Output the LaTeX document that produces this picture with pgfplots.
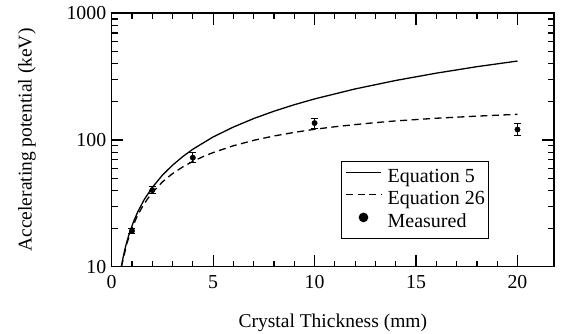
\documentclass[border=0pt]{standalone}
\usepackage{fontspec}
\setmainfont{Liberation Serif}
\usepackage{pgfplots}
\pgfplotsset{compat=1.18}
\begin{document}
\begin{tikzpicture}
\begin{axis}[
  name=ax,
  scale only axis,
  width=442.3bp, height=253.4bp,
  ymode=log,
  xmin=0, xmax=21.8,
  ymin=10, ymax=1000,
  xtick={0,5,10,15,20},
  xticklabels={0,5,10,15,20},
  minor x tick num=4,
  ytick={10,100,1000},
  yticklabels={10,100,1000},
  tick pos=both,
  tick align=inside,
  major tick length=11.7bp,
  minor tick length=6bp,
  axis line style={line width=1.6bp},
  every tick/.style={line width=1.2bp, black},
  /pgf/number format/assume math mode=true,
  tick label style={font=\fontsize{19.8bp}{23bp}\selectfont},
  label style={font=\fontsize{19.5bp}{23bp}\selectfont},
  xticklabel shift=5bp,
  yticklabel shift=2bp,
  xlabel={Crystal Thickness (mm)},
  ylabel={Accelerating potential (keV)},
  xlabel style={at={(axis description cs:0.5,-0.238)}, anchor=base},
  ylabel style={at={(axis description cs:-0.181,0.5)}, anchor=base},
  legend style={
    at={(axis description cs:0.519,0.417)}, anchor=north west,
    draw=black, line width=1.2bp,
    font=\fontsize{20bp}{23bp}\selectfont,
    inner xsep=3.5bp, inner ysep=7bp,
    row sep=4bp, column sep=6bp,
    nodes={inner sep=0bp, text height=14bp, text depth=4bp},
  },
  legend cell align=left,
]
\addplot[black, line width=1.3bp,
  legend image code/.code={\draw[black, line width=1.3bp] (0bp,5bp) -- (35bp,5bp);}]
coordinates {
(0.476,10) (0.55,11.6) (0.65,13.7) (0.75,15.8) (0.9,19.0) (1.1,23.2) (1.3,27.4)
(1.6,33.8) (2,42.2) (2.5,52.8) (3,63.3) (3.5,73.9) (4,84.6) (5,105.7) (6,126.6)
(7,147.7) (8,168.8) (9,189.9) (10,211) (12,253) (14,295) (16,337) (18,379) (20,420)
};
\addlegendentry{Equation 5}
\addplot[black, line width=1.3bp, dash pattern=on 7bp off 4.5bp,
  legend image code/.code={\draw[black, line width=1.3bp, dash pattern=on 7bp off 4.5bp] (0bp,5bp) -- (35bp,5bp);}]
coordinates {
(0.48,10) (0.75,15.3) (1,20.1) (1.25,24.9) (1.5,29.5) (1.75,34) (2,38.4)
(2.5,46.7) (3,54.3) (3.5,61.3) (4,67.8) (4.5,73.9) (5,79.6) (6,90.1) (7,99.4)
(8,107.6) (9,114.8) (10,121.5) (11,127.2) (12,132.3) (13,137.1) (14,141.5)
(16,148.5) (18,154.3) (20,159.5)
};
\addlegendentry{Equation 26}
\addplot[black, only marks, mark=*, mark size=2.7bp,
  legend image code/.code={\path[draw=none,fill=none] (0bp,5bp) -- (35bp,5bp); \fill[black] (17.5bp,5bp) circle (4.2bp);},
  error bars/.cd, y dir=both, y explicit,
  error bar style={line width=1bp, black},
  error mark options={rotate=90, mark size=3.5bp, line width=1bp, black},
  ]
coordinates {
(1,19.2) +- (0,1)
(2,40.2) +- (0,2.7)
(4,72.5) +- (0,6.6)
(10,136) +- (0,12.5)
(20,121) +- (0,13)
};
\addlegendentry{Measured}
\end{axis}
\pgfresetboundingbox
\path[use as bounding box] ([xshift=-111.7bp,yshift=-67.3bp]ax.south west) rectangle ([xshift=8bp,yshift=13.3bp]ax.north east);
\end{tikzpicture}
\end{document}
